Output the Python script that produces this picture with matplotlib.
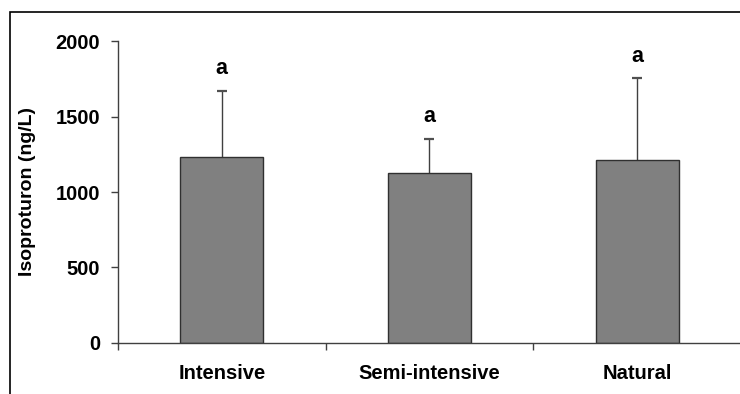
import matplotlib
matplotlib.use("Agg")
import matplotlib.pyplot as plt
from matplotlib.patches import Rectangle

categories = ["Intensive", "Semi-intensive", "Natural"]
means = [1235, 1127, 1212]
err_upper = [435, 225, 542]
letters = ["a", "a", "a"]
yticks = [0, 500, 1000, 1500, 2000]

plt.rcParams['font.family'] = ['Liberation Sans', 'DejaVu Sans']

fig = plt.figure(figsize=(7.4, 3.94), dpi=100)
ax = fig.add_axes([118/740, 1-342.7/394, 623/740, (342.7-41.3)/394])

line_c = "#404040"
x = list(range(len(categories)))
tops = [m + e for m, e in zip(means, err_upper)]
ax.bar(x, means, width=0.40, color="#808080", edgecolor="#303030", linewidth=1.0, zorder=2)
ax.vlines(x, means, tops, color=line_c, linewidth=1.0, zorder=1)
ax.plot(x, tops, linestyle='none', marker='_', markersize=7, markeredgewidth=1.6,
        color="#505050", zorder=1)

for xi, tp, t in zip(x, tops, letters):
    ax.annotate(t, (xi, tp), xytext=(0, 16), textcoords='offset points',
                ha='center', va='center', fontsize=15.5, fontweight='bold')

ax.set_xlim(-0.5, 2.5)
ax.set_ylim(0, 2000)
ax.set_yticks(yticks)
ax.set_yticklabels([str(v) for v in yticks], fontsize=14.5, fontweight='bold')
ax.set_xticks([-0.5, 0.5, 1.5, 2.5])
ax.set_xticklabels([])
ax.set_xticks(x, minor=True)
ax.set_xticklabels(categories, minor=True, fontsize=14.5, fontweight='bold')
ax.tick_params(axis='x', which='minor', length=0, pad=15)
ax.tick_params(axis='x', which='major', length=5, width=1, color=line_c, direction='out')
ax.tick_params(axis='y', length=5, width=1, color=line_c, direction='out', pad=8)
ax.set_ylabel("Isoproturon (ng/L)", fontsize=14, fontweight='bold', labelpad=14)

for s in ['top', 'right']:
    ax.spines[s].set_visible(False)
for s in ['left', 'bottom']:
    ax.spines[s].set_color(line_c)
    ax.spines[s].set_linewidth(1.0)

fig.patches.append(Rectangle((10/740, -0.1), 1.2, 1 - 12/394 + 0.1, transform=fig.transFigure,
                             fill=False, edgecolor='black', linewidth=1.2))

fig.savefig("out.png", dpi=100)
